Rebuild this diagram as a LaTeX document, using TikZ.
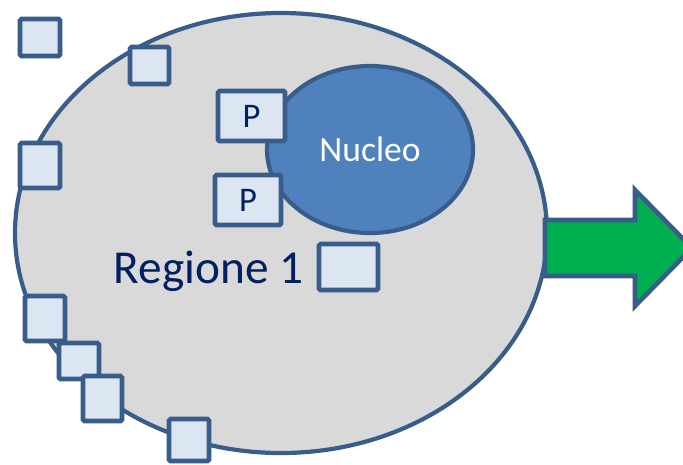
\documentclass[tikz,border=0pt]{standalone}
\usepackage{fontspec}
\setmainfont{Carlito}
\usetikzlibrary{shapes.geometric}
\definecolor{outl}{HTML}{385D8A}
\definecolor{cellgrey}{HTML}{D9D9D9}
\definecolor{boxfill}{HTML}{DCE6F2}
\definecolor{nucfill}{HTML}{4F81BD}
\definecolor{arrfill}{HTML}{00B050}
\definecolor{navy}{HTML}{002060}
\begin{document}
\begin{tikzpicture}[x=1pt,y=-1pt,
  cell/.style={ellipse,draw=outl,fill=cellgrey,line width=4.2pt,inner sep=0pt},
  nucleus/.style={ellipse,draw=outl,fill=nucfill,line width=4.2pt,inner sep=0pt,
    text=white,font=\fontsize{35.5}{40}\selectfont},
  sq/.style={rectangle,draw=outl,fill=boxfill,line width=4.6pt,rounded corners=1.5pt,
    inner sep=0pt,text=navy,font=\fontsize{34.5}{40}\selectfont},
  bigarrow/.style={draw=outl,fill=arrfill,line width=4.6pt,line join=miter}
]
\useasboundingbox (0,0) rectangle (683,464);
\clip (0,0) rectangle (683,464);
\fill[white] (0,0) rectangle (683,464);
% cell body
\node[cell,minimum width=532pt,minimum height=440pt] (cell) at (281,233) {};
% nucleus
\node[nucleus,minimum width=206pt,minimum height=167pt] (nuc) at (370,149.5) {Nucleo};
% squares
\node[sq,minimum width=40pt,minimum height=37pt] (a) at (40,37.5) {};
\node[sq,minimum width=39pt,minimum height=37pt] (b) at (149.5,65.5) {};
\node[sq,minimum width=40pt,minimum height=45pt] (c) at (40,165.5) {};
\node[sq,minimum width=40pt,minimum height=45pt] (d) at (45,318.5) {};
\node[sq,minimum width=40pt,minimum height=36pt] (e) at (79,361) {};
\node[sq,minimum width=39pt,minimum height=45pt] (f) at (102.5,398.5) {};
\node[sq,minimum width=40pt,minimum height=42pt] (g) at (189,440) {};
\node[sq,minimum width=67pt,minimum height=50pt] (p1) at (251.5,116) {P};
\node[sq,minimum width=66pt,minimum height=50pt] (p2) at (248,200) {P};
\node[sq,minimum width=59pt,minimum height=46pt] (r) at (348.5,267) {};
% label
\node[anchor=base west,inner sep=0pt,text=navy,font=\fontsize{47.3}{52}\selectfont]
  (lbl) at (113.5,283) {Regione 1};
% arrow
\coordinate (as1) at (545,220);
\coordinate (as2) at (635,220);
\coordinate (ah1) at (635,190);
\coordinate (tip) at (692,248);
\coordinate (ah2) at (635,306);
\coordinate (as3) at (635,276);
\coordinate (as4) at (545,276);
\draw[bigarrow] (as1) -- (as2) -- (ah1) -- (tip) -- (ah2) -- (as3) -- (as4) -- cycle;
\end{tikzpicture}
\end{document}
